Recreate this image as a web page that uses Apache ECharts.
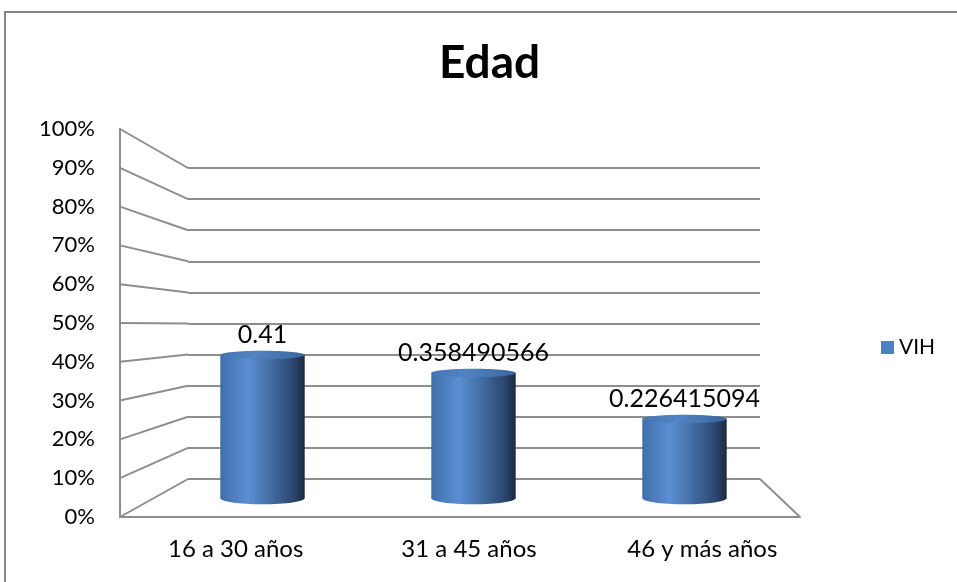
<!DOCTYPE html>
<html>
<head>
<meta charset="utf-8">
<script src="https://cdn.jsdelivr.net/npm/echarts@6/dist/echarts.min.js"></script>
<style>
  html, body { margin: 0; padding: 0; background: #fff; }
  #chart { width: 957px; height: 582px; }
</style>
</head>
<body>
<div id="chart"></div>
<script>
// Age groups and the share of VIH cases in each
const categories = ['16 a 30 años', '31 a 45 años', '46 y más años'];
const vih = [0.41, 0.358490566, 0.226415094];
const seriesName = 'VIH';
const titleText = 'Edad';
// Value axis ticks (0% .. 100%)
const tickValues = [0, 0.1, 0.2, 0.3, 0.4, 0.5, 0.6, 0.7, 0.8, 0.9, 1];

const FONT = 'Lato, "Open Sans", sans-serif';
const GRID_COLOR = '#8e8e8e';

const chart = echarts.init(document.getElementById('chart'), null, { renderer: 'canvas' });

// Draws one cylinder standing on the floor of the middle grid
function renderCylinder(params, api) {
  const idx = api.value(0);
  const val = api.value(1);
  const top = api.coord([idx, val]);
  const base = api.coord([idx, 0]);
  const band = api.size([1, 0])[0];
  const w = band * 0.40;
  const rx = w / 2;
  const ryTop = w * 0.05;
  const ryBase = w * 0.075;
  const x0 = top[0] - rx;

  const bodyFill = new echarts.graphic.LinearGradient(0, 0, 1, 0, [
    { offset: 0, color: '#3f6eab' },
    { offset: 0.33, color: '#5b8fd3' },
    { offset: 0.62, color: '#41699e' },
    { offset: 0.85, color: '#2d4a73' },
    { offset: 1, color: '#1b2a40' }
  ]);
  const topFill = new echarts.graphic.LinearGradient(0, 0, 1, 0, [
    { offset: 0, color: '#4675b3' },
    { offset: 0.4, color: '#5283c4' },
    { offset: 1, color: '#3c659c' }
  ]);

  return {
    type: 'group',
    children: [
      {
        type: 'ellipse',
        shape: { cx: base[0], cy: base[1], rx: rx, ry: ryBase },
        style: { fill: bodyFill }
      },
      {
        type: 'rect',
        shape: { x: x0, y: top[1], width: w, height: base[1] - top[1] },
        style: { fill: bodyFill }
      },
      {
        type: 'ellipse',
        shape: { cx: top[0], cy: top[1], rx: rx, ry: ryTop },
        style: { fill: topFill }
      },
      {
        type: 'text',
        x: top[0],
        y: top[1] - ryTop - 3,
        style: {
          text: String(val),
          align: 'center',
          verticalAlign: 'bottom',
          fill: '#000',
          font: '25px ' + FONT
        }
      }
    ]
  };
}

const option = {
  animation: false,
  backgroundColor: '#ffffff',
  title: {
    text: titleText,
    left: 434,
    top: 35,
    textStyle: { fontFamily: FONT, fontSize: 46, fontWeight: 'bold', color: '#000' }
  },
  legend: {
    data: [seriesName],
    left: 876,
    top: 332,
    icon: 'rect',
    itemWidth: 13,
    itemHeight: 13,
    itemGap: 5,
    textStyle: { fontFamily: FONT, fontSize: 21, color: '#000' }
  },
  grid: [
    // back wall
    { left: 188, right: 197, top: 168, bottom: 103 },
    // front edge
    { left: 120, right: 157, top: 129, bottom: 65 },
    // cylinders
    { left: 157, right: 167, top: 149, bottom: 84 },
    // category labels along the front
    { left: 119, right: 138, top: 129, bottom: 65 }
  ],
  xAxis: [
    {
      gridIndex: 0, type: 'category', data: categories,
      axisLine: { show: false }, axisTick: { show: false }, axisLabel: { show: false }
    },
    {
      gridIndex: 1, type: 'category', data: categories,
      axisLine: { show: true, lineStyle: { color: GRID_COLOR, width: 2 } },
      axisTick: { show: false }, axisLabel: { show: false }
    },
    {
      gridIndex: 2, type: 'category', data: categories,
      axisLine: { show: false }, axisTick: { show: false }, axisLabel: { show: false }
    },
    {
      gridIndex: 3, type: 'category', data: categories,
      axisLine: { show: false }, axisTick: { show: false },
      axisLabel: { fontFamily: FONT, fontSize: 24, color: '#000', margin: 20 }
    }
  ],
  yAxis: [
    {
      gridIndex: 0, type: 'value', min: 0, max: 1, interval: 0.1,
      axisLine: { show: false }, axisTick: { show: false }, axisLabel: { show: false },
      splitLine: { show: true, lineStyle: { color: GRID_COLOR, width: 2 } }
    },
    {
      gridIndex: 1, type: 'value', min: 0, max: 1, interval: 0.1,
      axisLine: { show: true, lineStyle: { color: GRID_COLOR, width: 2 } },
      axisTick: { show: false },
      splitLine: { show: false },
      axisLabel: {
        fontFamily: FONT, fontSize: 22, color: '#000', margin: 25,
        formatter: v => Math.round(v * 100) + '%'
      }
    },
    {
      gridIndex: 2, type: 'value', min: 0, max: 1, interval: 0.1,
      axisLine: { show: false }, axisTick: { show: false }, axisLabel: { show: false },
      splitLine: { show: false }
    },
    {
      gridIndex: 3, type: 'value', min: 0, max: 1, show: false
    }
  ],
  series: [
    {
      name: seriesName,
      type: 'custom',
      xAxisIndex: 2,
      yAxisIndex: 2,
      z: 5,
      itemStyle: { color: '#4f81bd' },
      renderItem: renderCylinder,
      data: vih.map((v, i) => [i, v])
    }
  ]
};

chart.setOption(option);

// Side wall and floor edges joining the front axis to the back wall
function buildFrame() {
  const els = [];
  const lineStyle = { stroke: GRID_COLOR, lineWidth: 2 };
  const frontRect = chart.getModel().getComponent('grid', 1).coordinateSystem.getRect();
  const backRect = chart.getModel().getComponent('grid', 0).coordinateSystem.getRect();
  tickValues.forEach(v => {
    const front = chart.convertToPixel({ xAxisIndex: 1, yAxisIndex: 1 }, [0, v]);
    const back = chart.convertToPixel({ xAxisIndex: 0, yAxisIndex: 0 }, [0, v]);
    els.push({
      type: 'line', z: 1, silent: true,
      shape: { x1: frontRect.x, y1: front[1], x2: backRect.x, y2: back[1] },
      style: lineStyle
    });
  });
  els.push({
    type: 'line', z: 1, silent: true,
    shape: {
      x1: backRect.x + backRect.width, y1: backRect.y + backRect.height,
      x2: frontRect.x + frontRect.width, y2: frontRect.y + frontRect.height
    },
    style: lineStyle
  });
  // outer chart border
  els.push({
    type: 'rect', z: 0, silent: true,
    shape: { x: 5, y: 12, width: 1200, height: 1200 },
    style: { fill: null, stroke: '#868686', lineWidth: 2 }
  });
  chart.setOption({ graphic: { elements: els } });
}
buildFrame();
</script>
</body>
</html>
